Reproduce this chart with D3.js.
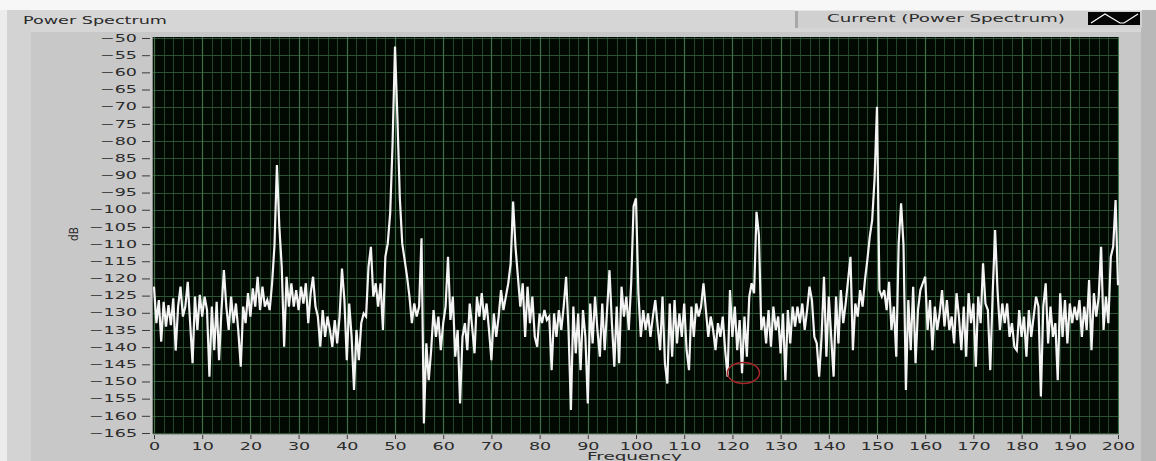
<!DOCTYPE html>
<html><head><meta charset="utf-8">
<script src="https://cdn.jsdelivr.net/npm/d3@7/dist/d3.min.js"></script>
<style>
html,body{margin:0;padding:0;background:#c8c8c8;overflow:hidden}
svg{display:block}
text{font-family:"DejaVu Sans",Verdana,sans-serif;fill:#2b2b2b}
</style></head><body><svg id="c" width="1156" height="461"></svg>
<script>
// ---------- data ----------
const chartTitle = "Power Spectrum";
const legendLabel = "Current (Power Spectrum)";
const xTitle = "Frequency";
const yTitle = "dB";
const xTicks = [0,10,20,30,40,50,60,70,80,90,100,110,120,130,140,150,160,170,180,190,200];
const yTicks = [-50,-55,-60,-65,-70,-75,-80,-85,-90,-95,-100,-105,-110,-115,-120,-125,-130,-135,-140,-145,-150,-155,-160,-165];
const freqStart = 0, freqStep = 0.5; // Hz, spectrum bin spacing
// power (dB), 0 – 49.5 Hz
const db000 = [-122.4,-133,-126.3,-138.4,-126.8,-134,-127.8,-133.6,-125.8,-141,
 -128.2,-122.4,-131.1,-128.2,-121,-133,-144.7,-125.3,-135,-124.8,
 -131.1,-125.3,-129.2,-148.6,-128.2,-140.9,-126.8,-143.8,-129.2,-117.6,
 -128.2,-135,-125.3,-133,-127.3,-135.5,-145.7,-128.2,-133,-124.3,
 -131.1,-122.9,-128.2,-119.5,-129.2,-122.4,-128.2,-126.3,-129.2,-121.4,
 -110.3,-87,-104.9,-116.6,-139.9,-119.5,-128.2,-121.4,-128.2,-123.4,
 -129.2,-122.4,-127.3,-121.4,-133,-124.3,-119.5,-128.2,-131.1,-139.9,
 -129.2,-137,-131.1,-135,-139.9,-132.1,-138.9,-131.1,-117.1,-126.3,
 -143.8,-127.3,-137,-152.5,-135,-143.8,-133,-130.2,-131.1,-116.6,
 -110.8,-125.3,-121.4,-128.2,-121.4,-135,-113.7,-109.8,-101,-80.6];
// 50 – 99.5 Hz
const db050 = [-52.5,-73.3,-96.6,-109.8,-114.6,-119.5,-125.3,-133,-127.3,-131.1,
 -128.2,-108.3,-162.2,-138.9,-149.6,-140.9,-129.2,-137,-131.1,-140.9,
 -133,-128.2,-113.7,-132.1,-125.3,-142.8,-135,-156.4,-137,-133,
 -140.9,-127.3,-134,-141.8,-125.3,-131.1,-124.3,-132.1,-127.3,-135,
 -143.8,-130.2,-137,-131.1,-123.4,-129.2,-125.3,-121.4,-115.6,-97.6,
 -110.8,-119.5,-128.2,-121.4,-137,-122.4,-133,-125.3,-137,-139.9,
 -130.2,-133,-129.2,-132.1,-131.1,-146.7,-130.2,-137,-129.2,-135,
 -128.2,-119.5,-135,-158.3,-128.2,-141.8,-130.2,-146.7,-129.2,-137,
 -156.4,-127.3,-138.9,-125.3,-135,-142.8,-127.3,-140.9,-129.2,-117.6,
 -133,-145.7,-128.2,-144.7,-122.4,-131.1,-125.3,-135,-121.4,-99];
// 100 – 149.5 Hz
const db100 = [-96.7,-124.3,-137,-129.2,-135,-130.2,-137,-131.1,-126.3,-134,
 -140.9,-125.3,-144.7,-150.6,-127.3,-142.8,-126.3,-138.9,-130.2,-137,
 -127.3,-140.9,-146.7,-128.2,-137,-127.3,-131.1,-128.2,-121.4,-129.2,
 -137,-131.1,-135,-140.9,-133,-137,-131.1,-140.9,-148.6,-123.4,
 -137,-128.2,-140.9,-132.1,-147.6,-131.1,-142.8,-125.3,-121.4,-124.3,
 -100.6,-107.4,-135,-131.1,-138.9,-129.2,-139.9,-128.2,-135,-131.1,
 -141.8,-130.2,-149.6,-129.2,-138.9,-128.2,-134,-128.2,-133,-127.3,
 -135,-129.2,-122.4,-126.3,-137,-138.9,-148.6,-137,-119.5,-142.8,
 -125.3,-137,-148.6,-125.3,-138.9,-123.4,-133,-127.3,-120.5,-113.7,
 -140.9,-127.3,-131.1,-123.4,-128.2,-120.5,-114.6,-107.8,-103,-90.9];
// 150 – 200 Hz
const db150 = [-70,-123.4,-125.3,-123.4,-129.2,-121,-135,-128.2,-142.8,-109.8,
 -98.1,-110.3,-152.5,-126.3,-140.9,-122.4,-144.7,-129.2,-123.4,-121.4,
 -119.5,-135,-126.3,-140.9,-128.2,-135,-130.2,-123.4,-134,-126.3,
 -135,-131.1,-138.9,-124.3,-131.1,-140.9,-128.2,-142.8,-124.3,-133,
 -127.3,-145.7,-125.3,-133,-115.6,-127.3,-129.2,-146.7,-124.3,-105.9,
 -123.4,-135,-127.3,-133,-127.3,-137,-133,-139.9,-140.9,-129.2,
 -137,-131.1,-142.8,-129.2,-137,-131.1,-125.3,-128.2,-154.4,-128.2,
 -121.4,-138.9,-128.2,-137,-133,-149.6,-124.3,-137,-126.3,-138.9,
 -127.3,-133,-128.2,-132.1,-126.3,-137,-128.2,-135,-120.5,-140.9,
 -124.3,-131.1,-125.3,-110.8,-135,-125.3,-133,-113.7,-110.8,-97.2,
 -122];
// marked point (red circle)
const markFreq = 122.3, markDb = -147.5;

// ---------- drawing ----------
const W = 1156, H = 461, SX = 1.75;
const svg = d3.select("#c");
const values = db000.concat(db050, db100, db150);
const freqs = values.map((d, i) => freqStart + i * freqStep);

const x = d3.scaleLinear().domain([0, 200]).range([154, 1118]);
const y = d3.scaleLinear().domain([-165, -50]).range([433, 38]);
const plot = {l: 153, r: 1119, t: 37, b: 434};

// panel background
svg.append("rect").attr("width", W).attr("height", H).attr("fill", "#c8c8c8");
svg.append("rect").attr("x", 0).attr("y", 0).attr("width", W).attr("height", 10).attr("fill", "#f7f7f7");
svg.append("rect").attr("x", 0).attr("y", 10).attr("width", W).attr("height", 22).attr("fill", "#d6d6d6");
svg.append("rect").attr("x", 0).attr("y", 10).attr("width", 7).attr("height", H - 10).attr("fill", "#ececec");
svg.append("rect").attr("x", 7).attr("y", 10).attr("width", 24).attr("height", H - 10).attr("fill", "#d3d3d3");
svg.append("rect").attr("x", 1141).attr("y", 10).attr("width", 15).attr("height", H - 10).attr("fill", "#b8b8b8");

// title
svg.append("text").attr("x", 23).attr("y", 24).attr("font-size", 10.5)
  .attr("textLength", 144).attr("lengthAdjust", "spacingAndGlyphs").text(chartTitle);

// legend
const lg = svg.append("g");
lg.append("rect").attr("x", 795).attr("y", 10).attr("width", 347).attr("height", 18).attr("fill", "#d0d0d0");
lg.append("rect").attr("x", 795).attr("y", 10).attr("width", 3).attr("height", 18).attr("fill", "#a8a8a8");
lg.append("rect").attr("x", 795).attr("y", 10).attr("width", 347).attr("height", 1).attr("fill", "#e6e6e6");
lg.append("text").attr("x", 827).attr("y", 22).attr("font-size", 10.5)
  .attr("textLength", 238).attr("lengthAdjust", "spacingAndGlyphs").text(legendLabel);
lg.append("rect").attr("x", 1088).attr("y", 12).attr("width", 52).attr("height", 13).attr("fill", "#050505");
lg.append("path").attr("d", "M1091,23 L1105,14 L1120,23 L1124,23 L1138,14")
  .attr("fill", "none").attr("stroke", "#ffffff").attr("stroke-width", 1.2);

// plot area
svg.append("rect").attr("x", plot.l).attr("y", plot.t).attr("width", plot.r - plot.l).attr("height", plot.b - plot.t)
  .attr("fill", "#020802");
svg.append("defs").append("clipPath").attr("id", "clip").append("rect")
  .attr("x", plot.l).attr("y", plot.t).attr("width", plot.r - plot.l).attr("height", plot.b - plot.t);

const grid = svg.append("g").attr("clip-path", "url(#clip)");
const minorX = x.ticks(100).filter(v => v % 10 !== 0);
grid.selectAll(".mx").data(minorX).join("line")
  .attr("x1", d => Math.round(x(d)) + 0.5).attr("x2", d => Math.round(x(d)) + 0.5)
  .attr("y1", plot.t).attr("y2", plot.b).attr("stroke", "#21452a").attr("stroke-width", 1);
grid.selectAll(".hy").data(yTicks).join("line")
  .attr("x1", plot.l).attr("x2", plot.r)
  .attr("y1", d => Math.round(y(d)) + 0.5).attr("y2", d => Math.round(y(d)) + 0.5)
  .attr("stroke", "#2a5233").attr("stroke-width", 1);
grid.selectAll(".Mx").data(xTicks).join("line")
  .attr("x1", d => Math.round(x(d)) + 0.5).attr("x2", d => Math.round(x(d)) + 0.5)
  .attr("y1", plot.t).attr("y2", plot.b).attr("stroke", "#3f7048").attr("stroke-width", 1.2);

// trace
const line = d3.line().x((d, i) => x(freqs[i])).y(d => y(d));
svg.append("g").attr("clip-path", "url(#clip)").append("path")
  .datum(values).attr("d", line).attr("fill", "none")
  .attr("stroke", "#f4f4f4").attr("stroke-width", 2.2).attr("stroke-linejoin", "miter");

// marker
svg.append("ellipse").attr("cx", x(markFreq)).attr("cy", y(markDb)).attr("rx", 16).attr("ry", 10.5)
  .attr("fill", "none").attr("stroke", "#a8262a").attr("stroke-width", 1.5);

// plot frame lines
svg.append("line").attr("x1", plot.l - 0.5).attr("x2", plot.l - 0.5).attr("y1", plot.t).attr("y2", plot.b)
  .attr("stroke", "#8c8c8c");
svg.append("line").attr("x1", plot.l).attr("x2", plot.r).attr("y1", plot.b + 0.5).attr("y2", plot.b + 0.5)
  .attr("stroke", "#a0a0a0");

// y axis
const yAxis = svg.append("g").attr("transform", "translate(150,0)")
  .call(d3.axisLeft(y).tickValues(yTicks).tickSize(8).tickPadding(5).tickFormat(d3.format("d")));
yAxis.select(".domain").remove();
yAxis.selectAll(".tick line").attr("stroke", "#3a3a3a").attr("stroke-width", 1);
yAxis.selectAll(".tick text").attr("font-size", 10).attr("font-family", "DejaVu Sans")
  .attr("fill", "#2b2b2b").attr("x", -13 / SX).attr("transform", `scale(${SX},1)`);

// x axis
const xAxis = svg.append("g").attr("transform", "translate(0,435)")
  .call(d3.axisBottom(x).tickValues(xTicks).tickSize(4).tickPadding(4).tickFormat(d3.format("d")));
xAxis.select(".domain").remove();
xAxis.selectAll(".tick line").attr("stroke", "#3a3a3a").attr("stroke-width", 1);
xAxis.selectAll(".tick text").attr("font-size", 10).attr("font-family", "DejaVu Sans")
  .attr("fill", "#2b2b2b").attr("transform", `scale(${SX},1)`);

// axis titles
svg.append("text").attr("x", 587).attr("y", 460).attr("font-size", 10)
  .attr("textLength", 95).attr("lengthAdjust", "spacingAndGlyphs").text(xTitle);
svg.append("text").attr("transform", "translate(78,241) rotate(-90)").attr("font-size", 11.5)
  .attr("textLength", 14).attr("lengthAdjust", "spacingAndGlyphs").text(yTitle);
</script></body></html>
